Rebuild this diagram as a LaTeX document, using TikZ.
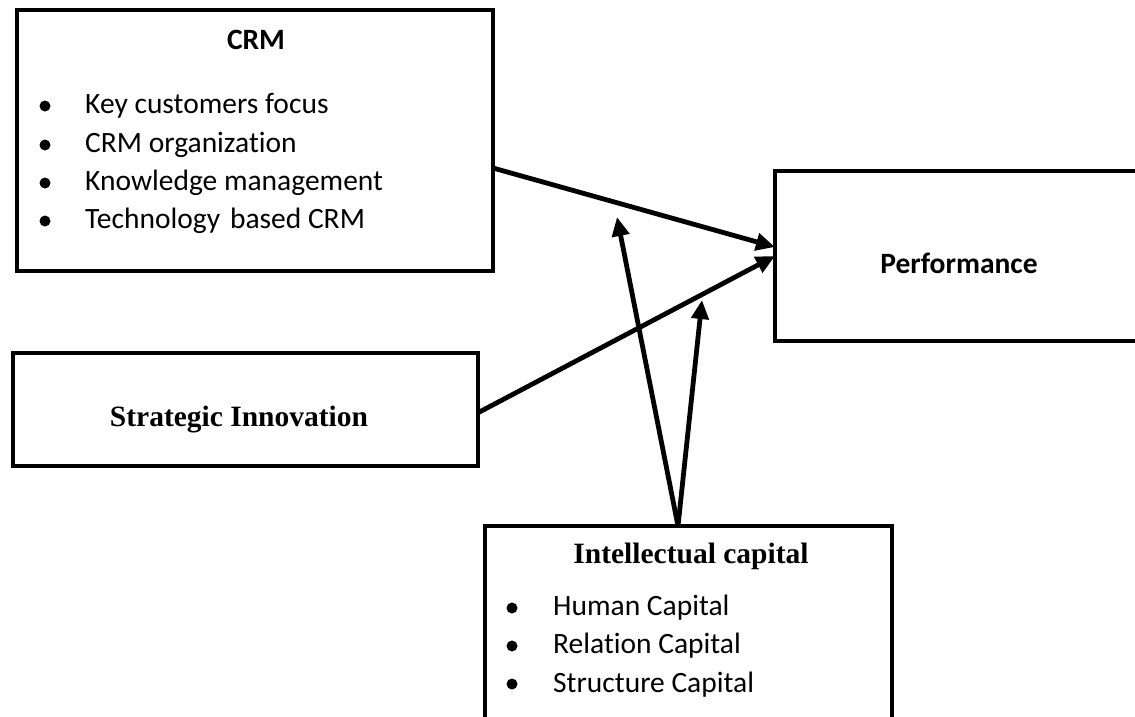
\documentclass[tikz,border=0pt]{standalone}
\usepackage{fontspec}
\setmainfont{Liberation Serif}
\newfontfamily\calibri[Ligatures=NoCommon]{Carlito}
\usetikzlibrary{arrows.meta}
\tikzset{
  box/.style={draw, line width=4pt, inner sep=0pt, outer sep=0pt},
  link/.style={line width=4.8pt, -{Triangle[length=19pt,width=17pt]}},
  serifhead/.style={inner sep=0pt, anchor=base, font=\fontsize{29.5}{32}\selectfont\bfseries},
  sanshead/.style={inner sep=0pt, anchor=base, font=\calibri\fontsize{29.5}{32}\selectfont\bfseries},
  item/.style={inner sep=0pt, anchor=base west, font=\calibri\fontsize{29.5}{32}\selectfont}
}

\begin{document}
\begin{tikzpicture}[x=1pt, y=-1pt]
			\useasboundingbox (0,0) rectangle (1135,716);
			\clip (0,0) rectangle (1135,716);
			% boxes
			\node[box, minimum width=476pt, minimum height=261pt] (crm) at (255,140.5) {};
			\node[box, minimum width=375pt, minimum height=170pt] (perf) at (962.5,256) {};
			\node[box, minimum width=465pt, minimum height=113pt] (si) at (245,409.5) {};
			\node[box, minimum width=407pt, minimum height=234pt] (ic) at (688.5,643) {};
			% texts
			\node[sanshead] (crmtitle) at (256,49) {CRM};
			\fill (45,106) circle (5.5pt);
			\node[item] (crmkey) at (85,113) {Key customers focus};
			\fill (45,145) circle (5.5pt);
			\node[item] (crmorg) at (85,152) {CRM organization};
			\fill (45,183) circle (5.5pt);
			\node[item] (crmknow) at (85,190) {Knowledge management};
			\fill (45,221) circle (5.5pt);
			\node[item] (crmtech) at (85,228) {Technology\,\,based CRM};
			\node[sanshead] (perftitle) at (959,273) {Performance};
			\node[serifhead] (sititle) at (239,426) {Strategic Innovation};
			\node[serifhead] (ictitle) at (691,563) {Intellectual capital};
			\fill (512,608) circle (5.5pt);
			\node[item] (ichuman) at (553,615) {Human Capital};
			\fill (512,646) circle (5.5pt);
			\node[item] (icrel) at (553,653) {Relation Capital};
			\fill (512,684) circle (5.5pt);
			\node[item] (icstruct) at (553,692) {Structure Capital};
			% arrows
			\coordinate (crmhit) at (617,217);
			\coordinate (sihit) at (702,300);
			\draw[link] ([yshift=-27.5pt]crm.east) -- ([yshift=9pt]perf.west);
			\draw[link] ([yshift=-3.5pt]si.east) -- (perf.west);
			\draw[link] ([xshift=-10.5pt]ic.north) -- (crmhit);
			\draw[link] ([xshift=-10.5pt]ic.north) -- (sihit);
		\end{tikzpicture}
\end{document}
